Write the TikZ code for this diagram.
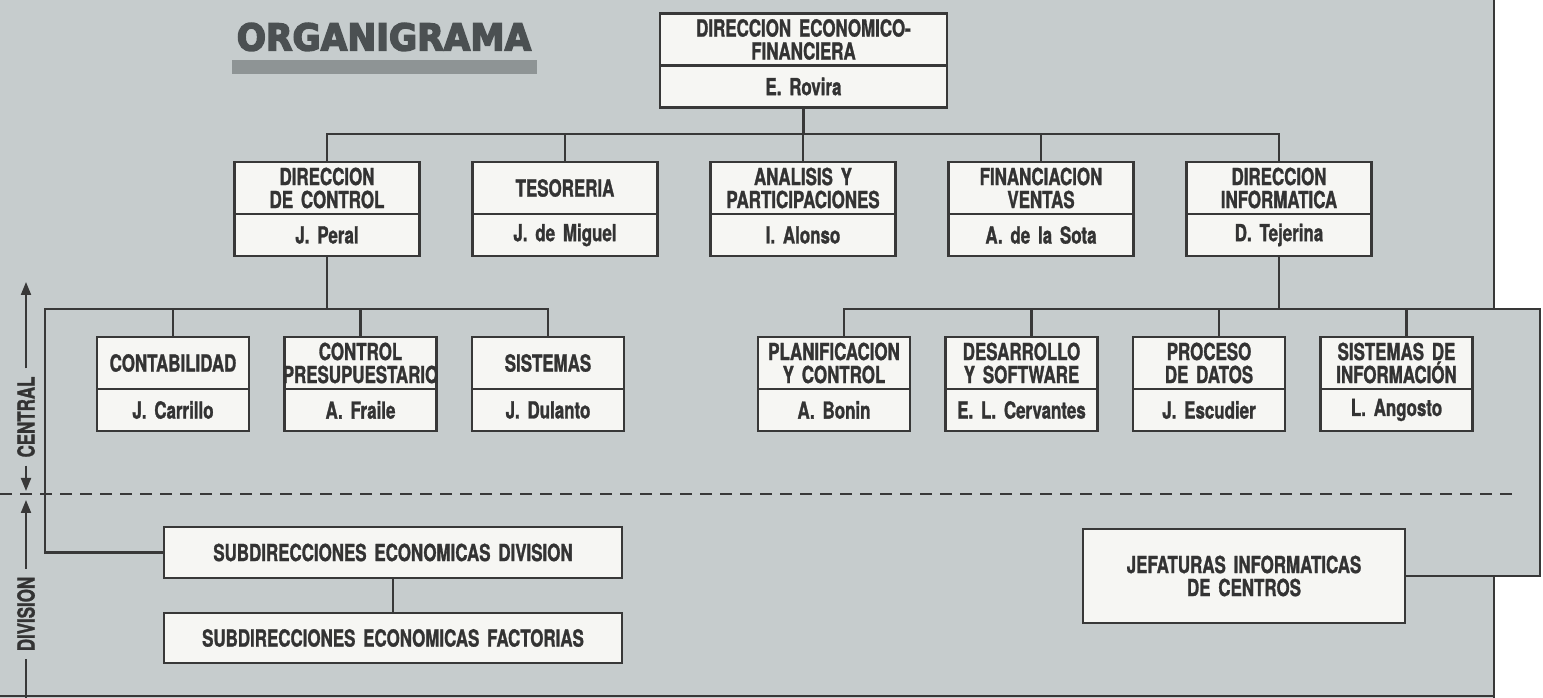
\documentclass[tikz,border=0pt]{standalone}
\usepackage{fontspec}
\usetikzlibrary{arrows.meta,positioning}
\newfontfamily\cond{TeX Gyre Heros}[FakeStretch=0.72,BoldFeatures={FakeBold=1.2}]
\newfontfamily\titulo{DejaVu Sans}[FakeStretch=0.93,BoldFeatures={FakeBold=4}]
\definecolor{fondo}{HTML}{C6CCCD}
\definecolor{barra}{HTML}{8E9495}
\definecolor{titgris}{HTML}{4B5052}
\definecolor{linea}{HTML}{383838}
\definecolor{caja}{HTML}{F6F6F3}
\definecolor{letra}{HTML}{333333}

\begin{document}
\begin{tikzpicture}[x=1pt,y=1pt,color=linea,line width=2.6pt,
                    >={Triangle[length=13pt,width=10pt]},node distance=238pt,
    cargo/.style={draw=linea,fill=caja,outer sep=0pt,inner xsep=2pt,inner ysep=0pt,
                  align=center,text=letra,minimum height=52pt,
                  font=\cond\bfseries\fontsize{23.5}{23}\selectfont},
    nombre/.style={cargo,minimum height=42pt},
    ancho1/.style={text width=283pt},
    ancho2/.style={text width=181pt},
    ancho3/.style={text width=148pt},
    lado/.style={rotate=90,text=letra,inner sep=7pt,
                 font=\cond\bfseries\fontsize{23.5}{23}\selectfont},
    flecha/.style={->,line width=2pt},
    corte/.style={dash pattern=on 12pt off 8pt,line width=2.4pt}]

  \useasboundingbox (0,0) rectangle (1543,698);
  \fill[fondo] (0,0) rectangle (1494,698);
  \fill[fondo] (1494,122) rectangle (1540,389);

  \node[text=titgris,inner sep=0pt,font=\titulo\bfseries\fontsize{37}{40}\selectfont]
        (org) at (384,661) {ORGANIGRAMA};
  \fill[barra] (232,624) rectangle (537,638);

  \node[cargo,ancho1](dir) at (803.5,658.5)      {DIRECCION ECONOMICO-\\FINANCIERA};
  \node[nombre,ancho1](dirP) [below=0pt of dir]  {E. Rovira};

  \node[cargo,ancho2](ctl) at (327,510)          {DIRECCION\\DE CONTROL};
  \node[cargo,ancho2](tes) [right of=ctl]        {TESORERIA};
  \node[cargo,ancho2](ana) [right of=tes]        {ANALISIS Y\\PARTICIPACIONES};
  \node[cargo,ancho2](fin) [right of=ana]        {FINANCIACION\\VENTAS};
  \node[cargo,ancho2](inf) [right of=fin]        {DIRECCION\\INFORMATICA};
  \node[nombre,ancho2](ctlP) [below=0pt of ctl]  {J. Peral};
  \node[nombre,ancho2](tesP) [below=0pt of tes]  {J. de Miguel};
  \node[nombre,ancho2](anaP) [below=0pt of ana]  {I. Alonso};
  \node[nombre,ancho2](finP) [below=0pt of fin]  {A. de la Sota};
  \node[nombre,ancho2](infP) [below=0pt of inf]  {D. Tejerina};

  \begin{scope}[node distance=187.5pt]
  \node[cargo,ancho3](cont) at (173,335)         {CONTABILIDAD};
  \node[cargo,ancho3](pres) [right of=cont]      {CONTROL\\\makebox[148pt]{PRESUPUESTARIO}};
  \node[cargo,ancho3](sis) [right of=pres]       {SISTEMAS};
  \node[cargo,ancho3](plan) at (834,335)         {PLANIFICACION\\Y CONTROL};
  \node[cargo,ancho3](des) [right of=plan]       {DESARROLLO\\Y SOFTWARE};
  \node[cargo,ancho3](proc) [right of=des]       {PROCESO\\DE DATOS};
  \node[cargo,ancho3](sinf) [right of=proc]      {SISTEMAS DE\\INFORMACIÓN};
  \end{scope}
  \node[nombre,ancho3](contP) [below=0pt of cont] {J. Carrillo};
  \node[nombre,ancho3](presP) [below=0pt of pres] {A. Fraile};
  \node[nombre,ancho3](sisP) [below=0pt of sis]   {J. Dulanto};
  \node[nombre,ancho3](planP) [below=0pt of plan] {A. Bonin};
  \node[nombre,ancho3](desP) [below=0pt of des]   {E. L. Cervantes};
  \node[nombre,ancho3](procP) [below=0pt of proc] {J. Escudier};
  \node[nombre,ancho3](sinfP) [below=0pt of sinf] {L. Angosto};

  \node[cargo,text width=454pt,minimum height=51pt](subdiv) at (393,145.5)
        {SUBDIRECCIONES ECONOMICAS DIVISION};
  \node[cargo,text width=454pt,minimum height=50pt](subfac) [below=35pt of subdiv]
        {SUBDIRECCIONES ECONOMICAS FACTORIAS};
  \node[cargo,text width=318pt,minimum height=94pt](jef) at (1244,122)
        {JEFATURAS INFORMATICAS\\DE CENTROS};

  \coordinate (bus1) at (803.5,564);
  \coordinate (bus2) at (327,389);
  \coordinate (bus3) at (1279,389);

  \draw (dirP.south) -- (bus1);
  \draw (bus1) -| (ctl.north);
  \draw (bus1) -| (tes.north);
  \draw (bus1) -| (ana.north);
  \draw (bus1) -| (fin.north);
  \draw (bus1) -| (inf.north);

  \draw (ctlP.south) -- (bus2);
  \draw (bus2) -| (cont.north);
  \draw (bus2) -| (pres.north);
  \draw (bus2) -| (sis.north);
  \draw (bus2) -| ([xshift=-119pt]subdiv.west) -- (subdiv.west);
  \draw (subdiv) -- (subfac);

  \draw (infP.south) -- (bus3);
  \draw (bus3) -| ([xshift=10pt]plan.north);
  \draw (bus3) -| ([xshift=10pt]des.north);
  \draw (bus3) -| ([xshift=10pt]proc.north);
  \draw (bus3) -| ([xshift=10pt]sinf.north);
  \draw (bus3) -| ([xshift=135pt]jef.east) -- (jef.east);

  \draw (1494,698) -- (1494,389);
  \draw (1494,122) -- (1494,0);
  \draw[line width=2pt] (0,2) -- (1494,2);
  \draw[corte] (0,204) -- (1513,204);

  \node[lado](central) at (26,281)  {CENTRAL};
  \node[lado](division) at (26,84)  {DIVISION};
  \coordinate (ctop) at (26,416);
  \coordinate (cbot) at (26,207);
  \coordinate (dtop) at (26,198);
  \coordinate (dbot) at (26,0);
  \draw[flecha] (central.east) -- (ctop);
  \draw[flecha] (central.west) -- (cbot);
  \draw[flecha] (division.east) -- (dtop);
  \draw[line width=2pt] (division.west) -- (dbot);

\end{tikzpicture}
\end{document}
